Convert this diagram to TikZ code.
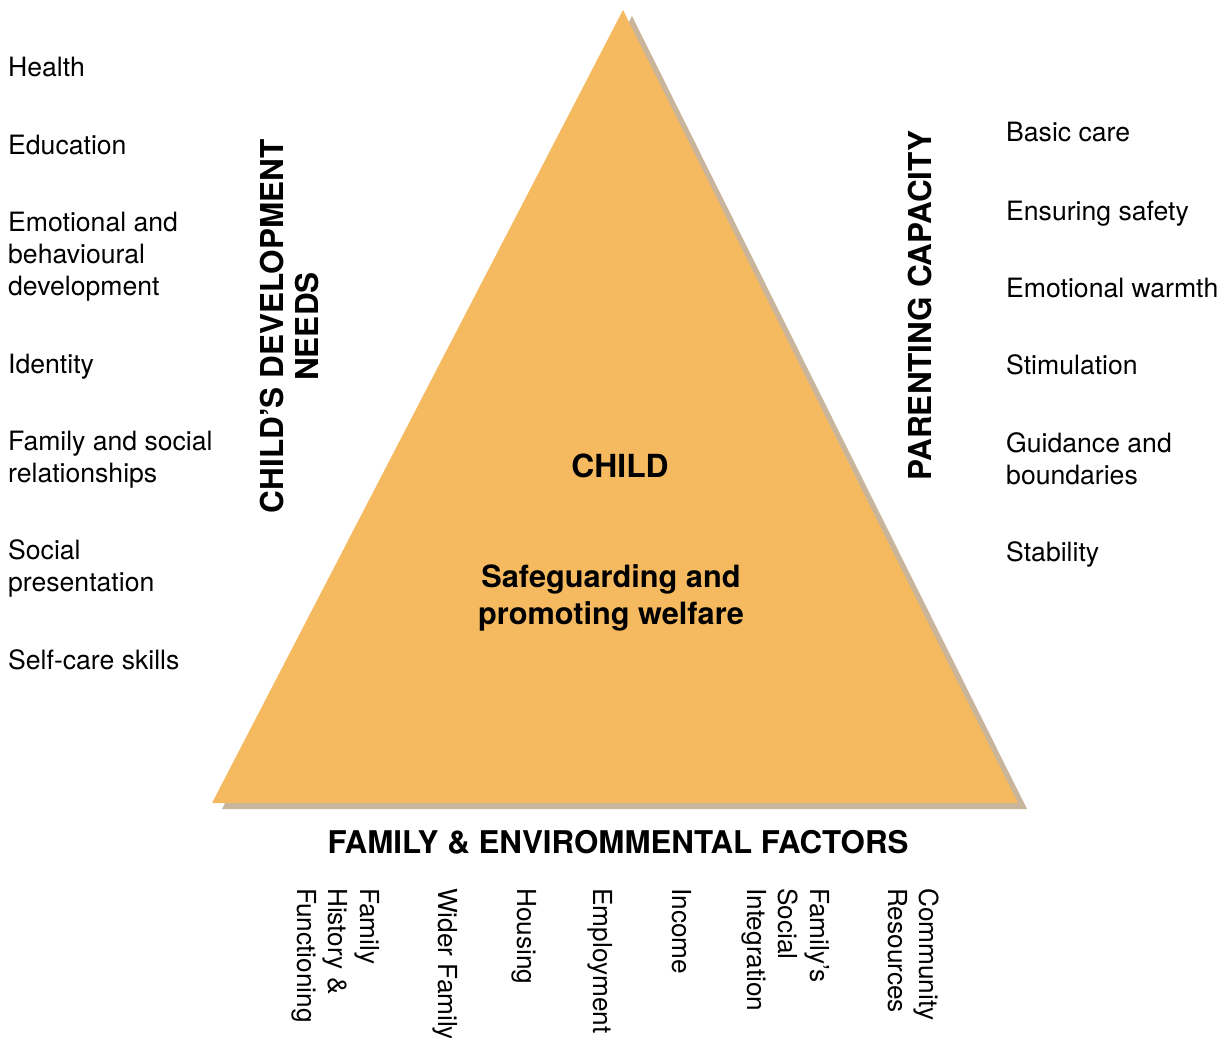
\documentclass[tikz,border=0pt]{standalone}
\usepackage{fontspec}
\setmainfont{TeX Gyre Heros}
\definecolor{triorange}{HTML}{F5BA5F}
\definecolor{trishadow}{HTML}{C8B59B}
\tikzset{
  listitem/.style={anchor=base west, inner sep=0pt, align=left, font=\fontsize{26.6}{32}\selectfont},
  sidetitle/.style={rotate=90, anchor=base, inner sep=0pt, align=center, font=\bfseries\fontsize{31.5}{35}\selectfont},
  innertext/.style={anchor=base, inner sep=0pt, align=center, font=\bfseries\fontsize{30.7}{37}\selectfont},
  factor/.style={rotate=-90, anchor=base west, inner sep=0pt, align=left, font=\fontsize{26.2}{31.5}\selectfont}
}
\begin{document}
\begin{tikzpicture}[x=1pt,y=-1pt]
\useasboundingbox (0,0) rectangle (1223,1038);
% triangle with shadow
\fill[trishadow] (632,16) -- (1027,809) -- (222,809) -- cycle;
\fill[triorange] (623,10) -- (1018,803) -- (212,803) -- cycle;

% inner texts (base anchor = last line baseline)
\node[innertext, font=\bfseries\fontsize{31.8}{37}\selectfont] (child) at (620,477) {CHILD};
\node[innertext] (safe) at (611,624) {Safeguarding and\\promoting welfare};

% side titles
\node[sidetitle] (cdn) at (318,326.5) {CHILD’S DEVELOPMENT\\NEEDS};
\node[sidetitle] (pc) at (931,305.5) {PARENTING CAPACITY};
\node[anchor=base, inner sep=0pt, font=\bfseries\fontsize{31.3}{35}\selectfont] (fef) at (618,853) {FAMILY \& ENVIROMMENTAL FACTORS};

% left list
\node[listitem] (l1) at (8,77) {Health};
\node[listitem] (l2) at (8,154) {Education};
\node[listitem] (l3) at (8,295) {Emotional and\\behavioural\\development};
\node[listitem] (l4) at (8,373) {Identity};
\node[listitem] (l5) at (8,482) {Family and social\\relationships};
\node[listitem] (l6) at (8,591) {Social\\presentation};
\node[listitem] (l7) at (8,669) {Self-care skills};

% right list
\node[listitem] (r1) at (1006,142) {Basic care};
\node[listitem] (r2) at (1006,220) {Ensuring safety};
\node[listitem] (r3) at (1006,297) {Emotional warmth};
\node[listitem] (r4) at (1006,374) {Stimulation};
\node[listitem] (r5) at (1006,484) {Guidance and\\boundaries};
\node[listitem] (r6) at (1006,561) {Stability};

% bottom factors
\node[factor] (b1) at (297,888) {Family\\History \&\\Functioning};
\node[factor] (b2) at (438,888) {Wider Family};
\node[factor] (b3) at (517,888) {Housing};
\node[factor] (b4) at (593,888) {Employment};
\node[factor] (b5) at (672,888) {Income};
\node[factor] (b6) at (747,888) {Family’s\\Social\\Integration};
\node[factor] (b7) at (888,888) {Community\\Resources};
\end{tikzpicture}
\end{document}
